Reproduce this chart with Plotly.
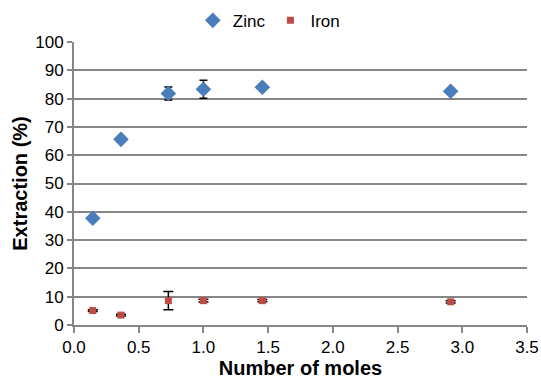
import plotly.graph_objects as go

# Moles of extractant vs. metal extraction
moles = [0.145, 0.363, 0.729, 1.0, 1.455, 2.91]
zinc = [37.7, 65.6, 81.8, 83.3, 84.0, 82.6]
zinc_err = [0.6, 1.0, 2.3, 3.2, 1.0, 1.0]
iron = [5.1, 3.5, 8.6, 8.6, 8.6, 8.2]
iron_err = [0.3, 0.3, 3.2, 0.5, 0.4, 0.4]

y_ticks = list(range(0, 101, 10))
x_ticks = [0.0, 0.5, 1.0, 1.5, 2.0, 2.5, 3.0, 3.5]

fig = go.Figure()
fig.add_trace(go.Scatter(
    x=moles, y=zinc, mode="markers", name="Zinc",
    marker=dict(symbol="diamond", size=12, color="#4a7ebb"),
    error_y=dict(type="data", array=zinc_err, color="black", thickness=1.5, width=4),
))
fig.add_trace(go.Scatter(
    x=moles, y=iron, mode="markers", name="Iron",
    marker=dict(symbol="square", size=7, color="#be4b48"),
    error_y=dict(type="data", array=iron_err, color="black", thickness=1.5, width=5),
))

fig.update_layout(
    width=541, height=380,
    margin=dict(l=74, r=14, t=42, b=55, autoexpand=False),
    paper_bgcolor="white", plot_bgcolor="white",
    font=dict(family="Liberation Sans, Arial, sans-serif", size=17, color="black"),
    showlegend=True,
    legend=dict(orientation="h", x=0.43, xanchor="center", y=1.075, yanchor="middle",
                font=dict(size=17), itemwidth=30, tracegroupgap=0),
)
fig.update_xaxes(
    range=[0, 3.5], tickvals=x_ticks, ticktext=[f"{v:.1f}" for v in x_ticks],
    showgrid=False, zeroline=False, automargin=False,
    showline=True, linecolor="#868686", linewidth=2,
    ticks="outside", tickcolor="#868686", ticklen=6, tickwidth=2,
    tickfont=dict(size=17),
    title=dict(text="<b>Number of moles</b>", font=dict(size=20), standoff=2),
)
fig.update_yaxes(
    range=[0, 100], tickvals=y_ticks,
    showgrid=True, gridcolor="#868686", gridwidth=2, zeroline=False, automargin=False,
    showline=True, linecolor="#868686", linewidth=2,
    ticks="outside", tickcolor="#868686", ticklen=5, tickwidth=2,
    tickfont=dict(size=17),
    title=dict(text="<b>Extraction (%)</b>", font=dict(size=20), standoff=2),
)

fig.write_html("out.html")
